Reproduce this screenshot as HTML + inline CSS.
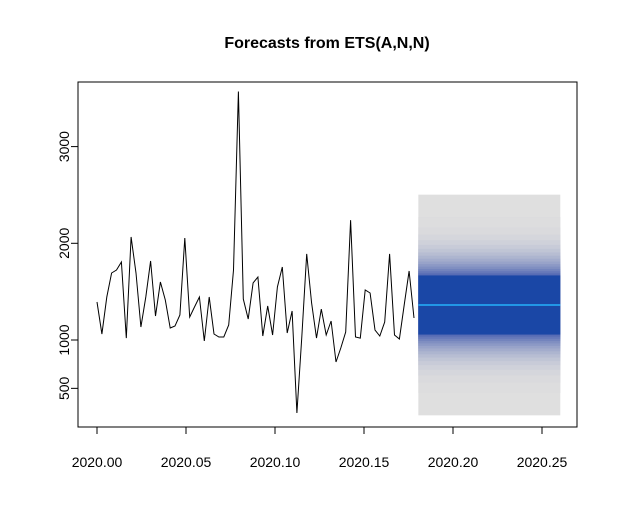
<!DOCTYPE html>
<html><head><meta charset="utf-8"><style>
body{margin:0;background:#fff;}
svg text{font-family:"Liberation Sans",Arial,sans-serif;}
</style></head><body>
<svg id="chart" width="618" height="527" xmlns="http://www.w3.org/2000/svg">
<rect width="618" height="527" fill="#fff"/>
<text x="327" y="48" text-anchor="middle" font-size="16" font-weight="bold">Forecasts from ETS(A,N,N)</text>
<g id="fan"></g>
<g id="series"></g>
<g id="axes"></g>
<rect x="78" y="82" width="499" height="345" fill="none" stroke="#000" stroke-width="1"/>
</svg>
<script>
const values=[1393,1062,1445,1693,1724,1807,1020,2065,1693,1134,1445,1817,1248,1600,1414,1124,1145,1259,2055,1238,1341,1445,990,1445,1062,1031,1031,1155,1724,3570,1424,1217,1590,1652,1041,1352,1052,1548,1755,1072,1300,245,1031,1890,1383,1020,1320,1052,1197,772,917,1083,2240,1031,1020,1517,1486,1103,1041,1186,1890,1052,1010,1362,1714,1228];
const forecastMean=1362;
const forecastSigma=443;
const forecastStart=66, forecastEnd=95;
const fanLevels=[99,96,93,90,87,84,81,78,75,72,69,66,63,60,57,54,51];
const xTicks=[2020.00,2020.05,2020.10,2020.15,2020.20,2020.25];
const yTicks=[500,1000,2000,3000];

const NS="http://www.w3.org/2000/svg";
const xs=t=>97+(t-2020)*1780;
const xi=i=>xs(2020+i/365);
const ys=v=>340-(v-1000)*0.0967;
function el(tag,attrs,parent){const e=document.createElementNS(NS,tag);for(const k in attrs)e.setAttribute(k,attrs[k]);parent.appendChild(e);return e;}
function zq(p){
  let lo=0,hi=5;
  for(let k=0;k<60;k++){const m=(lo+hi)/2;const c=0.5*(1+erf(m/Math.SQRT2));if(c<p)lo=m;else hi=m;}
  return (lo+hi)/2;}
function erf(x){const t=1/(1+0.3275911*Math.abs(x));const y=1-(((((1.061405429*t-1.453152027)*t)+1.421413741)*t-0.284496736)*t+0.254829592)*t*Math.exp(-x*x);return x>=0?y:-y;}
function mix(c1,c2,f){return 'rgb('+c1.map((c,i)=>Math.round(c+(c2[i]-c)*f)).join(',')+')';}

const fan=document.getElementById('fan');
const x0=xi(forecastStart)-0.5, x1=xi(forecastEnd);
fanLevels.forEach((lv,k)=>{
  const z=zq(0.5+lv/200);
  const hi=forecastMean+z*forecastSigma, lo=forecastMean-z*forecastSigma;
  const f=k/(fanLevels.length-1);
  const col=k===fanLevels.length-1?'#1a47a6':mix([223,223,223],[72,96,176],Math.pow(f,1.6));
  const r=el('rect',{x:x0,y:ys(hi),width:x1-x0,height:ys(lo)-ys(hi),fill:col},fan);
  
  
});
const ml=el('line',{x1:x0,x2:x1,y1:ys(forecastMean),y2:ys(forecastMean),stroke:'#2297e6','stroke-width':2},fan);



const ser=document.getElementById('series');
const pl=el('polyline',{points:values.map((v,i)=>xi(i).toFixed(1)+','+ys(v).toFixed(1)).join(' '),fill:'none',stroke:'#000','stroke-width':1},ser);



const ax=document.getElementById('axes');
el('line',{x1:xs(xTicks[0]),x2:xs(xTicks[xTicks.length-1]),y1:427,y2:427,stroke:'#000'},ax);
xTicks.forEach(t=>{
  const x=xs(t);
  el('line',{x1:x,x2:x,y1:427,y2:434,stroke:'#000'},ax);
  const tx=el('text',{x:x,y:467,'text-anchor':'middle','font-size':14},ax);
  tx.textContent=t.toFixed(2);
  
  
});
el('line',{x1:78,x2:78,y1:ys(500),y2:ys(3000),stroke:'#000'},ax);
yTicks.forEach(v=>{
  const y=ys(v);
  el('line',{x1:71,x2:78,y1:y,y2:y,stroke:'#000'},ax);
  const tx=el('text',{x:75,y:y,'text-anchor':'middle','font-size':14,transform:'rotate(-90 75 '+y+')'},ax);
  tx.setAttribute('dy','-6');
  tx.textContent=v;
  
  
});
</script>
</body></html>
